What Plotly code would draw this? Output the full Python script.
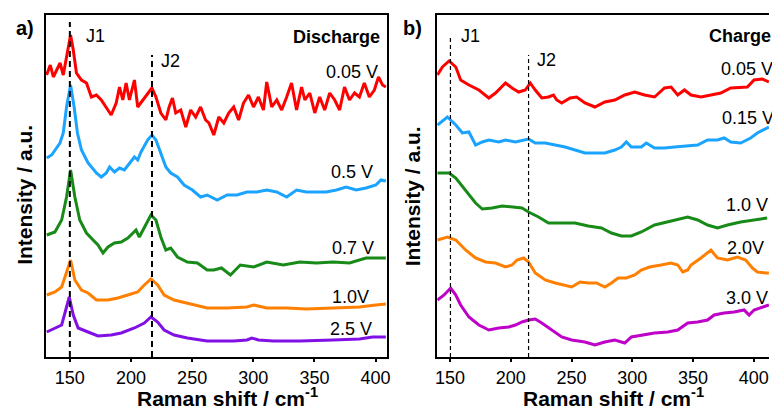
import plotly.graph_objects as go

# ---------------- Panel a (Discharge) ----------------
a_red_x = [131, 134, 136.5, 142, 144.6, 147.3, 150.6, 152.8, 155.4, 159.5,
           163.6, 167.6, 171.7, 175.7, 179.8, 183.8, 187.9, 190.6, 193.3, 196,
           198.7, 202.8, 205.5, 209.6, 213.6, 217.1, 220.4, 224.4, 228.5, 231.2,
           233.9, 236.6, 240.7, 244.8, 248.8, 252.9, 256.9, 261, 263.7, 267.7,
           271.8, 275.9, 279.9, 284, 288, 292, 296.1, 300.2, 304.2, 308.3,
           311, 315.1, 319.2, 323.2, 327.3, 331.3, 335.4, 339.5, 342.2, 346.2,
           350.3, 354.3, 358.4, 362.5, 366.6, 370.6, 374.6, 378.7, 382.8, 386.8,
           390.8, 394.9, 399, 402.4, 405.7, 408.4]
a_red_y = [282, 292, 280, 294, 282, 300, 322, 307, 284, 277,
           274, 260, 262, 257, 250, 242, 254, 270, 257, 274,
           257, 277, 250, 257, 264, 269, 260, 244, 237, 250,
           259, 244, 247, 230, 247, 240, 250, 237, 234, 222,
           240, 234, 244, 250, 237, 254, 262, 250, 260, 247,
           275, 250, 257, 247, 260, 274, 247, 270, 257, 264,
           244, 260, 247, 264, 257, 247, 270, 257, 264, 260,
           274, 260, 267, 280, 272, 270]

a_blue_x = [131.1, 135.1, 141.9, 144.6, 147.3, 150.6, 153.5, 156.2, 159.5, 164.9,
            171.7, 175.7, 179.8, 182.5, 186.5, 190.6, 194.6, 198.7, 202.8, 205.5,
            208.2, 213.6, 217.1, 220.4, 224.4, 228.5, 232.5, 238, 243.4, 250.2,
            256.9, 262.3, 270.5, 278.6, 286.7, 294.8, 302.9, 311, 319.2, 327.3,
            335.4, 343.5, 351.7, 359.8, 367.9, 376, 384.1, 392.2, 400.3, 404.4, 408.4]
a_blue_y = [199, 202, 214, 224, 250, 272, 250, 224, 207, 194,
            184, 180, 184, 190, 185, 189, 187, 194, 200, 197,
            205, 217, 222, 217, 204, 190, 184, 180, 172, 167,
            160, 162, 157, 162, 162, 165, 165, 167, 165, 160,
            167, 165, 165, 165, 167, 170, 167, 169, 172, 177, 176]

a_green_x = [131.1, 137.8, 143.3, 147.3, 150.6, 154.1, 158.1, 163.6, 169, 173,
             177.1, 181.2, 186.5, 192, 197.4, 201.5, 204.1, 206.8, 210.9, 216.3,
             220.4, 224.4, 228.5, 232.5, 238, 246.1, 254.3, 262.3, 267.7, 274,
             281.3, 289.4, 300.2, 311, 324.6, 338.1, 351.7, 365.2, 378.7, 386.8,
             392.2, 400.3, 408.4]
a_green_y = [122, 125, 137, 160, 187, 160, 137, 124, 117, 112,
             104, 110, 114, 115, 119, 124, 127, 120, 130, 142,
             137, 120, 107, 109, 100, 95, 94, 87, 87, 89,
             82, 92, 90, 95, 92, 95, 94, 95, 94, 97,
             99, 99, 99]

a_orange_x = [131.1, 137.8, 143.3, 147.3, 150.6, 154.1, 159.5, 164.9, 171.7, 181.2,
              189.3, 197.4, 205.5, 210.9, 216.3, 221.8, 227.1, 235.2, 246.1, 262.3,
              278.6, 294.8, 300.2, 311, 327.3, 343.5, 365.2, 386.8, 400.3, 408.4]
a_orange_y = [62, 65, 70, 84, 97, 77, 67, 64, 57, 57,
              59, 62, 65, 72, 78, 72, 62, 57, 54, 49,
              49, 50, 52, 49, 49, 48, 49, 50, 52, 53]

a_purple_x = [131.1, 137.8, 143.3, 147.3, 149.5, 152.8, 156.8, 164.9, 173, 183.8,
              192, 202.8, 210.9, 216.3, 221.8, 227.1, 235.2, 246.1, 262.3, 284,
              294.8, 298.8, 304.2, 316.4, 338.1, 365.2, 386.8, 397.6, 408.4]
a_purple_y = [25, 29, 32, 50, 60, 42, 29, 25, 21, 22,
              24, 29, 34, 40, 35, 27, 22, 19, 16, 16,
              17, 19, 17, 16, 16, 17, 18, 20, 20]

# ---------------- Panel b (Charge) ----------------
b_red_x = [139.6, 143.7, 149.2, 154.7, 158.7, 165.5, 173.7, 181.9, 187.4, 195.6,
           201, 206.5, 211.9, 216, 220.1, 225.5, 231, 235.1, 237.8, 241.9,
           248.8, 254.2, 261, 269.2, 277.4, 285.6, 293.8, 302, 310.1, 318.3,
           326.5, 331.9, 337.4, 342.9, 348.3, 356.5, 364.7, 372.8, 381, 389.2,
           394.7, 400.2, 407, 412.4]
b_red_y = [282, 290, 296, 290, 277, 272, 267, 259, 264, 274,
           269, 265, 267, 274, 267, 259, 260, 262, 257, 254,
           259, 260, 254, 250, 255, 257, 262, 265, 262, 260,
           269, 270, 262, 267, 262, 260, 262, 264, 269, 270,
           270, 277, 278, 275]

b_blue_x = [139.6, 147.8, 154.7, 160.1, 165.5, 171, 176.5, 181.9, 190.1, 195.6,
            203.8, 214.6, 220.1, 228.3, 236.5, 244.7, 252.9, 261, 269.2, 277.4,
            285.6, 291, 295.1, 299.2, 307.4, 311.5, 318.3, 326.5, 334.7, 345.6,
            353.8, 361.9, 370.1, 375.6, 381, 389.2, 397.4, 402.9, 408.3, 412.4]
b_blue_y = [232, 240, 232, 224, 225, 212, 215, 217, 215, 217,
            215, 218, 214, 214, 212, 210, 207, 204, 204, 204,
            207, 210, 215, 210, 210, 214, 209, 209, 210, 211,
            212, 217, 217, 219, 215, 214, 219, 224, 227, 230]

b_green_x = [139.6, 149.2, 154.7, 162.8, 171, 176.5, 184.6, 192.8, 201, 209.2,
             214.6, 222.8, 231, 241.9, 252.9, 263.7, 274.6, 282.8, 291, 299.2,
             307.4, 318.3, 329.2, 337.4, 345.6, 353.8, 361.9, 370.1, 378.3, 389.2,
             400.2, 411]
b_green_y = [184, 184, 179, 167, 154, 148, 149, 151, 150, 149,
             145, 140, 134, 134, 134, 131, 129, 124, 121, 121,
             125, 132, 135, 137, 140, 137, 132, 129, 132, 135,
             137, 139]

b_orange_x = [139.6, 147.8, 154.7, 162.8, 171, 179.2, 187.4, 195.6, 201, 205.1,
              210.6, 214.6, 220.1, 228.3, 236.5, 244.7, 250.1, 257, 263.7, 270.5,
              277.4, 282.8, 288.3, 295.1, 302, 307.4, 314.2, 323.7, 331.9, 337.4,
              341.5, 345.6, 348.3, 356.5, 364.7, 370.1, 378.3, 386.5, 393.3, 398.8,
              402.9, 409.7, 412.4]
b_orange_y = [117, 120, 117, 107, 99, 95, 94, 90, 92, 97,
              99, 95, 84, 77, 74, 72, 70, 75, 74, 74,
              70, 74, 79, 79, 82, 87, 90, 92, 94, 92,
              85, 87, 92, 99, 107, 99, 97, 100, 97, 89,
              85, 84, 84]

b_purple_x = [139.6, 145.1, 150.5, 154.7, 158.7, 165.5, 173.7, 181.9, 190.1, 198.3,
              203.8, 209.2, 214.6, 220.1, 225.5, 233.7, 241.9, 250.1, 261, 269.2,
              277.4, 285.6, 293.8, 299.2, 310.1, 318.3, 329.2, 337.4, 345.6, 353.8,
              361.9, 367.4, 375.6, 383.8, 392, 396.1, 400.2, 405.6, 412.4]
b_purple_y = [57, 62, 69, 62, 52, 40, 32, 27, 29, 30,
              32, 35, 37, 38, 34, 27, 20, 17, 15, 12,
              15, 17, 14, 20, 22, 24, 25, 27, 34, 35,
              37, 42, 44, 45, 47, 42, 47, 49, 52]

# peak marker positions (cm-1) and their top heights
a_J = [150, 217.2]
a_J_top = [335, 302]
b_J = [150.3, 214.6]
b_J_top = [321, 302]

a_labels = ["0.05 V", "0.5 V", "0.7 V", "1.0V", "2.5 V"]
a_label_x = [403.3, 399.2, 400, 395.9, 398.4]
a_label_y = [285, 185, 109, 60, 28]
b_labels = ["0.05 V", "0.15 V", "1.0 V", "2.0V", "3.0 V"]
b_label_x = [371.6, 372.4, 375.7, 376.5, 375.7]
b_label_y = [288, 239, 152, 109, 59]

colors_a = ["#FF0000", "#1AA3FF", "#178A17", "#FF8000", "#8010E6"]
colors_b = ["#FF0000", "#1AA3FF", "#178A17", "#FF8000", "#BE00C8"]

fig = go.Figure()

a_series = [(a_red_x, a_red_y), (a_blue_x, a_blue_y), (a_green_x, a_green_y),
            (a_orange_x, a_orange_y), (a_purple_x, a_purple_y)]
b_series = [(b_red_x, b_red_y), (b_blue_x, b_blue_y), (b_green_x, b_green_y),
            (b_orange_x, b_orange_y), (b_purple_x, b_purple_y)]

for (xs, ys), c in zip(a_series, colors_a):
    fig.add_trace(go.Scatter(x=xs, y=ys, mode="lines", line=dict(color=c, width=3),
                             xaxis="x", yaxis="y", showlegend=False, hoverinfo="skip"))
for (xs, ys), c in zip(b_series, colors_b):
    fig.add_trace(go.Scatter(x=xs, y=ys, mode="lines", line=dict(color=c, width=3),
                             xaxis="x2", yaxis="y2", showlegend=False, hoverinfo="skip"))

for xv, top in zip(a_J, a_J_top):
    fig.add_trace(go.Scatter(x=[xv, xv], y=[0, top], mode="lines",
                             line=dict(color="black", width=2, dash="6px,4px"),
                             xaxis="x", yaxis="y", showlegend=False, hoverinfo="skip"))
for xv, top in zip(b_J, b_J_top):
    fig.add_trace(go.Scatter(x=[xv, xv], y=[0, top], mode="lines",
                             line=dict(color="black", width=1.2, dash="4px,3px"),
                             xaxis="x2", yaxis="y2", showlegend=False, hoverinfo="skip"))

FONT = "Liberation Sans, Arial, sans-serif"
ann = []
for t, xv, yv in zip(a_labels, a_label_x, a_label_y):
    ann.append(dict(text=t, x=xv, y=yv, xref="x", yref="y", xanchor="right", yanchor="middle",
                    showarrow=False, font=dict(size=18, color="black")))
for t, xv, yv in zip(b_labels, b_label_x, b_label_y):
    ann.append(dict(text=t, x=xv, y=yv, xref="x2", yref="y2", xanchor="left", yanchor="middle",
                    showarrow=False, font=dict(size=18, color="black")))

ann += [
    dict(text="J1", x=161.9, y=321, xref="x", yref="y", xanchor="left", yanchor="middle",
         showarrow=False, font=dict(size=18)),
    dict(text="J2", x=222.9, y=296, xref="x", yref="y", xanchor="left", yanchor="middle",
         showarrow=False, font=dict(size=18)),
    dict(text="J1", x=157.4, y=321, xref="x2", yref="y2", xanchor="left", yanchor="middle",
         showarrow=False, font=dict(size=18)),
    dict(text="J2", x=220.3, y=297, xref="x2", yref="y2", xanchor="left", yanchor="middle",
         showarrow=False, font=dict(size=18)),
    dict(text="<b>Discharge</b>", x=404.9, y=320, xref="x", yref="y", xanchor="right",
         yanchor="middle", showarrow=False, font=dict(size=18)),
    dict(text="<b>Charge</b>", x=361.8, y=321, xref="x2", yref="y2", xanchor="left",
         yanchor="middle", showarrow=False, font=dict(size=18)),
    dict(text="<b>a)</b>", x=12 / 772, y=(357 - 28) / 342, xref="paper", yref="paper",
         xanchor="left", yanchor="middle", showarrow=False, font=dict(size=20)),
    dict(text="<b>b)</b>", x=402 / 772, y=(357 - 28) / 342, xref="paper", yref="paper",
         xanchor="left", yanchor="middle", showarrow=False, font=dict(size=20)),
    dict(text="<b>Raman shift / cm<sup>-1</sup></b>", x=227 / 772, y=(357 - 397) / 342,
         xref="paper", yref="paper", xanchor="center", yanchor="middle", showarrow=False,
         font=dict(size=21)),
    dict(text="<b>Raman shift / cm<sup>-1</sup></b>", x=615 / 772, y=(357 - 397) / 342,
         xref="paper", yref="paper", xanchor="center", yanchor="middle", showarrow=False,
         font=dict(size=21)),
    dict(text="<b>Intensity / a.u.</b>", x=22 / 772, y=(357 - 195) / 342, textangle=-90,
         xref="paper", yref="paper", xanchor="center", yanchor="middle", showarrow=False,
         font=dict(size=21)),
    dict(text="<b>Intensity / a.u.</b>", x=414 / 772, y=(357 - 196) / 342, textangle=-90,
         xref="paper", yref="paper", xanchor="center", yanchor="middle", showarrow=False,
         font=dict(size=21)),
]

xcommon = dict(showgrid=False, zeroline=False, showline=True, linecolor="black", linewidth=2,
               ticks="outside", ticklen=3, tickwidth=2, tickcolor="black",
               tickvals=[150, 200, 250, 300, 350, 400],
               tickfont=dict(size=18, color="black"))
ycommon = dict(showgrid=False, zeroline=False, showline=True, linecolor="black", linewidth=2,
               showticklabels=False, ticks="", range=[0, 342])

fig.update_layout(
    width=772, height=412,
    margin=dict(l=0, r=0, t=15, b=55),
    paper_bgcolor="white", plot_bgcolor="white",
    font=dict(family=FONT, color="black"),
    xaxis=dict(domain=[44 / 772, 388 / 772], range=[130.26, 409.75], mirror=True,
               anchor="y", **xcommon),
    yaxis=dict(domain=[0, 1], anchor="x", mirror=True, **ycommon),
    xaxis2=dict(domain=[438 / 772, 1.0], range=[139.37, 412.5], mirror=True,
                anchor="y2", **xcommon),
    yaxis2=dict(domain=[0, 1], anchor="x2", mirror=False, **ycommon),
    annotations=ann,
    showlegend=False,
)

fig.write_html("out.html")
